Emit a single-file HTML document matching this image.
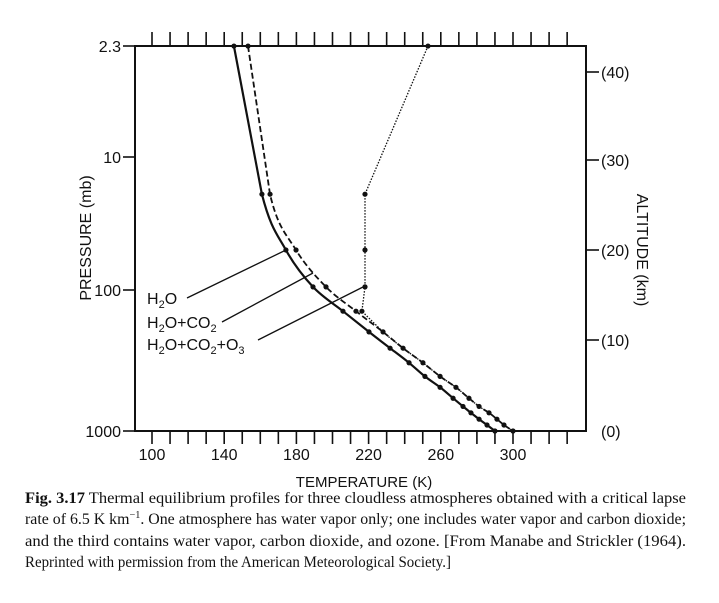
<!DOCTYPE html>
<html><head><meta charset="utf-8"><style>
body{margin:0;background:#fff;}
svg{display:block;}
text{font-family:"Liberation Sans",sans-serif;fill:#111;}
.cap{font-family:"Liberation Serif",serif;font-size:15.5px;}
</style></head><body>
<svg id="chart" width="719" height="603" viewBox="0 0 719 603">
<g id="axes"></g>
<g id="series"></g>
<g>
<text x="147" y="304" font-size="16">H<tspan font-size="11" dy="4">2</tspan><tspan dy="-4">O</tspan></text>
<text x="147" y="328" font-size="16">H<tspan font-size="11" dy="4">2</tspan><tspan dy="-4">O+CO</tspan><tspan font-size="11" dy="4">2</tspan></text>
<text x="147" y="350" font-size="16">H<tspan font-size="11" dy="4">2</tspan><tspan dy="-4">O+CO</tspan><tspan font-size="11" dy="4">2</tspan><tspan dy="-4">+O</tspan><tspan font-size="11" dy="4">3</tspan></text>
<line x1="187" y1="298" x2="286" y2="250" stroke="#111" stroke-width="1.3"/>
<line x1="222" y1="322" x2="313" y2="273" stroke="#111" stroke-width="1.3"/>
<line x1="258" y1="340" x2="363" y2="287" stroke="#111" stroke-width="1.3"/>
</g>
<g>
<text class="cap" x="25" y="503" textLength="661" lengthAdjust="spacingAndGlyphs"><tspan font-weight="bold">Fig. 3.17</tspan>  Thermal equilibrium profiles for three cloudless atmospheres obtained with a critical lapse</text>
<text class="cap" x="25" y="524" textLength="661" lengthAdjust="spacingAndGlyphs">rate of 6.5 K km<tspan font-size="10" dy="-6">−1</tspan><tspan dy="6">. One atmosphere has water vapor only; one includes water vapor and carbon dioxide;</tspan></text>
<text class="cap" x="25" y="546" textLength="661" lengthAdjust="spacingAndGlyphs">and the third contains water vapor, carbon dioxide, and ozone. [From Manabe and Strickler (1964).</text>
<text class="cap" x="25" y="567" textLength="426" lengthAdjust="spacingAndGlyphs">Reprinted with permission from the American Meteorological Society.]</text>
</g>
</svg>
<script>
const altLevels=[42.95,26.2,20,15.9,13.2,10.9,9.1,7.5,6.0,4.8,3.6,2.7,2.0,1.3,0.66,0];
const tempH2O=[145.4,160.9,174.2,189.2,205.8,220.2,231.9,242.4,251.2,259.6,266.8,272.3,276.7,281.2,285.6,290];
const tempH2OCO2=[153.2,165.4,179.8,196.4,213,228,239.1,250.1,259.6,268.4,275.6,281.2,286.7,291.1,295,300];
const tempH2OCO2O3=[252.9,218,218,218,216.3,228,239.1,250.1,259.6,268.4,275.6,281.2,286.7,291.1,295,300];
const xTicks=[100,140,180,220,260,300];
const pTicks=[2.3,10,100,1000];
const zTicks=[0,10,20,30,40];
const NS='http://www.w3.org/2000/svg';
const L=135,R=586,T=46,B=431;
function x(t){return 152+(t-100)*1.805;}
const zA=[0,10,20,30,40,50],yA=[431,340,250,160,72,-16];
function yZ(z){for(let i=0;i<zA.length-1;i++){if(z<=zA[i+1]||i===zA.length-2){return yA[i]+(z-zA[i])/(zA[i+1]-zA[i])*(yA[i+1]-yA[i]);}}}
const pA=[1000,100,10,2.3],pY=[431,290,157,46];
function yP(p){for(let i=0;i<pA.length-1;i++){if(p>=pA[i+1]||i===pA.length-2){const a=Math.log10(pA[i]),b=Math.log10(pA[i+1]);return pY[i]+(Math.log10(p)-a)/(b-a)*(pY[i+1]-pY[i]);}}}
function mk(tag,attrs,parent){const e=document.createElementNS(NS,tag);for(const k in attrs)e.setAttribute(k,attrs[k]);parent.appendChild(e);return e;}
const ax=document.getElementById('axes'),se=document.getElementById('series');
let f=mk('rect',{x:L,y:T,width:R-L,height:B-T,fill:'none',stroke:'#111','stroke-width':2},ax);


for(let t=100;t<=330;t+=10){
 let a=mk('line',{x1:x(t),x2:x(t),y1:T-14,y2:T,stroke:'#111','stroke-width':1.6},ax);
 
 
 let b=mk('line',{x1:x(t),x2:x(t),y1:B,y2:B+13,stroke:'#111','stroke-width':1.6},ax);
 
 
}
xTicks.forEach(t=>{let e=mk('text',{x:x(t),y:B+29,'text-anchor':'middle','font-size':16},ax);e.textContent=t;
 
 });
pTicks.forEach(p=>{const y=yP(p);
 let l=mk('line',{x1:L-12,x2:L,y1:y,y2:y,stroke:'#111','stroke-width':1.6},ax);
 
 
 let e=mk('text',{x:L-14,y:y+6,'text-anchor':'end','font-size':16},ax);e.textContent=p;
 
 });
zTicks.forEach(z=>{const y=yZ(z);
 if(z>0){let l=mk('line',{x1:R,x2:R+13,y1:y,y2:y,stroke:'#111','stroke-width':1.6},ax);
 
 }
 let e=mk('text',{x:R+15,y:y+6,'font-size':16},ax);e.textContent='('+z+')';
 
 });
let t1=mk('text',{x:364,y:487,'text-anchor':'middle','font-size':15},ax);t1.textContent='TEMPERATURE (K)';


let t2=mk('text',{x:0,y:0,'text-anchor':'middle','font-size':16,transform:'translate(91,238) rotate(-90)'},ax);t2.textContent='PRESSURE (mb)';


let t3=mk('text',{x:0,y:0,'text-anchor':'middle','font-size':16,transform:'translate(637,250) rotate(90)'},ax);t3.textContent='ALTITUDE (km)';


function smoothPath(P,smooth){
 let d='M'+P[0][0].toFixed(1)+','+P[0][1].toFixed(1);
 for(let i=0;i<P.length-1;i++){
  const p0=P[Math.max(i-1,0)],p1=P[i],p2=P[i+1],p3=P[Math.min(i+2,P.length-1)];
  if(!smooth(i)){d+=' L'+p2[0].toFixed(1)+','+p2[1].toFixed(1);continue;}
  const c1=[p1[0]+(p2[0]-p0[0])/6,p1[1]+(p2[1]-p0[1])/6],c2=[p2[0]-(p3[0]-p1[0])/6,p2[1]-(p3[1]-p1[1])/6];
  d+=' C'+c1[0].toFixed(1)+','+c1[1].toFixed(1)+' '+c2[0].toFixed(1)+','+c2[1].toFixed(1)+' '+p2[0].toFixed(1)+','+p2[1].toFixed(1);
 }
 return d;
}
function drawSeries(temps,name,style,dots,smooth){
 const P=temps.map((t,i)=>[x(t),yZ(altLevels[i])]);
 let pl=mk('path',Object.assign({d:smoothPath(P,smooth),fill:'none',stroke:'#111'},style),se);
 
 
 temps.forEach((t,i)=>{if(!dots(i))return;let c=mk('circle',{cx:x(t),cy:yZ(altLevels[i]),r:2.6,fill:'#111'},se);
  
  });
}
drawSeries(tempH2O,'h2o',{'stroke-width':2.2},i=>true,i=>i>=1);
drawSeries(tempH2OCO2,'h2o-co2',{'stroke-width':1.8,'stroke-dasharray':'6 3'},i=>true,i=>i>=1);
drawSeries(tempH2OCO2O3,'h2o-co2-o3',{'stroke-width':1.3,'stroke-dasharray':'1.5 1.5'},i=>i<5,i=>i>=5);
</script>
</body></html>
